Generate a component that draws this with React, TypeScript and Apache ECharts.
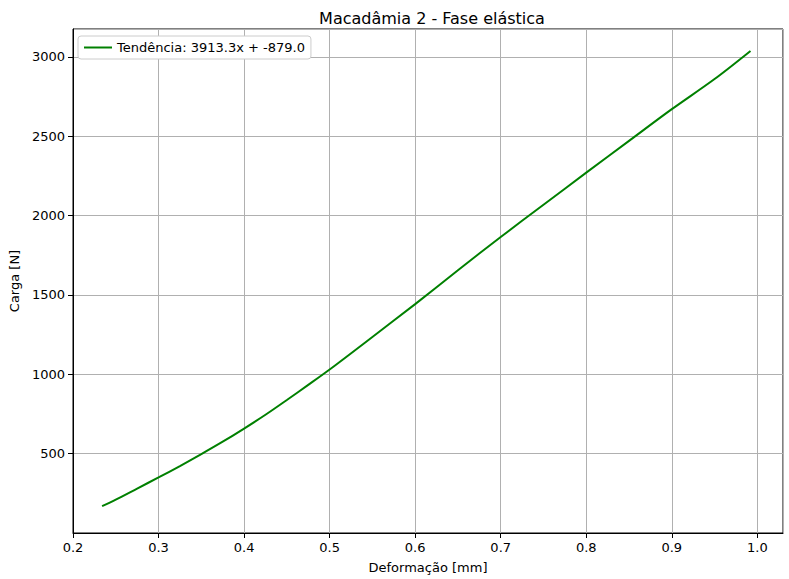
import { useRef, useEffect } from "react";
import * as echarts from "echarts";

const deformacao = [0.234, 0.25, 0.275, 0.3, 0.325, 0.35, 0.375, 0.4, 0.425, 0.45, 0.475, 0.5, 0.55, 0.6, 0.65, 0.7, 0.75, 0.8, 0.85, 0.9, 0.95, 0.992];
const carga = [169, 210, 280, 350, 422, 497, 575, 658, 745, 838, 933, 1030, 1235, 1442, 1655, 1865, 2068, 2270, 2470, 2670, 2860, 3037];
const legendName = "Tendência: 3913.3x + -879.0";

export default function App() {
  const chartRef = useRef<HTMLDivElement>(null);

  useEffect(() => {
    if (!chartRef.current) return;
    const chart = echarts.init(chartRef.current, null, { renderer: "svg" });
    const font = "DejaVu Sans";
    chart.setOption({
      animation: false,
      textStyle: { fontFamily: font },
      title: {
        text: "Macadâmia 2 - Fase elástica",
        left: 427,
        textAlign: "center",
        top: 5,
        textStyle: { fontSize: 16, fontWeight: "normal", color: "#000", fontFamily: font },
      },
      legend: {
        left: 78,
        top: 36,
        orient: "vertical",
        backgroundColor: "#fff",
        borderColor: "#ccc",
        borderWidth: 1,
        borderRadius: 3,
        padding: [5, 6],
        itemWidth: 28,
        itemHeight: 2,
        icon: "rect",
        textStyle: { fontSize: 13, color: "#000", fontFamily: font },
        data: [legendName],
      },
      grid: { left: 71, right: 6, top: 29, bottom: 45, show: true, borderColor: "#000", borderWidth: 1 },
      xAxis: {
        type: "value",
        min: 0.2,
        max: 1.03,
        interval: 0.1,
        name: "Deformação [mm]",
        nameLocation: "middle",
        nameGap: 28,
        nameTextStyle: { fontSize: 13, color: "#000" },
        axisLine: { lineStyle: { color: "#000" } },
        axisTick: { show: true, lineStyle: { color: "#000" } },
        axisLabel: { color: "#000", fontSize: 13, showMaxLabel: false, formatter: (v: number) => v.toFixed(1) },
        splitLine: { show: true, lineStyle: { color: "#b0b0b0" } },
      },
      yAxis: {
        type: "value",
        min: 0,
        max: 3175,
        interval: 500,
        name: "Carga [N]",
        nameLocation: "middle",
        nameGap: 52,
        nameTextStyle: { fontSize: 13, color: "#000" },
        axisLine: { show: true, lineStyle: { color: "#000" } },
        axisTick: { show: true, lineStyle: { color: "#000" } },
        axisLabel: { color: "#000", fontSize: 13, showMaxLabel: false, showMinLabel: false, formatter: (v: number) => String(v) },
        splitLine: { show: true, lineStyle: { color: "#b0b0b0" } },
      },
      series: [
        {
          name: legendName,
          type: "line",
          smooth: 0.3,
          showSymbol: false,
          lineStyle: { color: "green", width: 2 },
          itemStyle: { color: "green" },
          data: deformacao.map((x, i) => [x, carga[i]]),
        },
      ],
    });
    return () => chart.dispose();
  }, []);

  return <div ref={chartRef} style={{ position: "absolute", left: 0, top: 0, width: 789, height: 579 }} />;
}
